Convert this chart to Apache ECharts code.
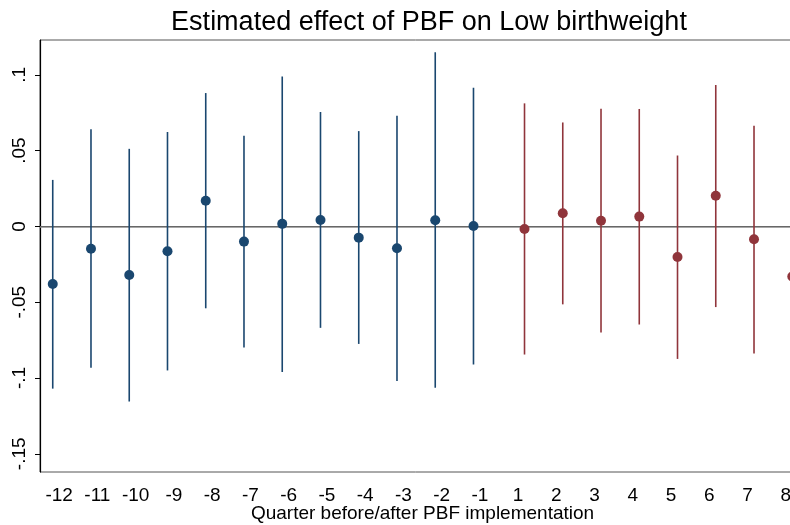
<!DOCTYPE html>
<html>
<head>
<meta charset="utf-8">
<script src="https://cdn.jsdelivr.net/npm/echarts@6/dist/echarts.min.js"></script>
<style>
  html, body { margin: 0; padding: 0; background: #fff; }
  #chart { width: 790px; height: 525px; }
</style>
</head>
<body>
<div id="chart"></div>
<script>
// quarters relative to PBF implementation
const quarters = ['-12', '-11', '-10', '-9', '-8', '-7', '-6', '-5', '-4', '-3', '-2', '-1',
                  '1', '2', '3', '4', '5', '6', '7', '8'];

// before implementation (navy)
const preEst   = [-0.038, -0.0147, -0.032, -0.0164, 0.017, -0.010, 0.0017, 0.0043, -0.0074, -0.0144, 0.0041, 0.0003];
const preLow   = [-0.107, -0.0933, -0.1155, -0.095, -0.054, -0.0799, -0.096, -0.0669, -0.0775, -0.102, -0.1065, -0.091];
const preHigh  = [0.0307, 0.0642, 0.0512, 0.0623, 0.088, 0.0598, 0.099, 0.0755, 0.0629, 0.073, 0.115, 0.0915];

// after implementation (maroon)
const postEst  = [-0.0017, 0.0087, 0.0038, 0.0065, -0.0202, 0.0202, -0.0085, -0.033];
const postLow  = [-0.0845, -0.0514, -0.070, -0.0647, -0.0874, -0.0532, -0.0838, -0.10];
const postHigh = [0.0812, 0.0686, 0.0777, 0.0775, 0.0468, 0.0933, 0.0664, 0.035];

const yTicks = [-0.15, -0.1, -0.05, 0, 0.05, 0.1];

const navy = '#1a476f';
const maroon = '#90353b';
const font = 'Liberation Sans, Arial, sans-serif';

// coefplot style offsets
const preOff = -0.167, postOff = 0.167;

function points(est, start, off) {
    return est.map((v, i) => [start + i + off, v]);
}
function ranges(low, high, start, off) {
    return low.map((v, i) => [start + i + off, v, high[i]]);
}

function ciSeries(data, color) {
    return {
        type: 'custom',
        xAxisIndex: 1,
        data: data,
        silent: true,
        clip: true,
        renderItem: function (params, api) {
            const a = api.coord([api.value(0), api.value(1)]);
            const b = api.coord([api.value(0), api.value(2)]);
            return {
                type: 'line',
                shape: { x1: a[0], y1: a[1], x2: b[0], y2: b[1] },
                style: { stroke: color, lineWidth: 1.6 }
            };
        },
        z: 2
    };
}

const chart = echarts.init(document.getElementById('chart'), null, { renderer: 'canvas' });

const option = {
    backgroundColor: '#fff',
    animation: false,
    title: {
        text: 'Estimated effect of PBF on Low birthweight',
        left: 424,
        textAlign: 'center',
        top: 4,
        textStyle: { fontFamily: font, fontSize: 27, fontWeight: 'normal', color: '#000' }
    },
    grid: {
        left: 40,
        top: 40,
        width: 765,
        bottom: 53,
        containLabel: false,
        outerBoundsMode: 'none',
        show: true,
        borderColor: '#555',
        borderWidth: 1
    },
    xAxis: [{
        type: 'category',
        data: quarters,
        boundaryGap: true,
        name: 'Quarter before/after PBF implementation',
        nameLocation: 'middle',
        nameGap: 32,
        nameMoveOverlap: false,
        nameTextStyle: { fontFamily: font, fontSize: 19, color: '#000' },
        axisLine: { lineStyle: { color: '#000', width: 1.2 } },
        axisTick: { alignWithLabel: true, length: 5, lineStyle: { color: '#000' } },
        axisLabel: { fontFamily: font, fontSize: 19, color: '#000', margin: 14, interval: 0 },
        splitLine: { show: false }
    }, {
        type: 'value',
        min: -0.5,
        max: 19.5,
        show: false
    }],
    yAxis: {
        type: 'value',
        min: -0.162,
        max: 0.123,
        axisLine: { show: true, onZero: false, lineStyle: { color: '#000', width: 1.2 } },
        axisTick: { show: true, length: 5, customValues: yTicks, lineStyle: { color: '#000' } },
        axisLabel: {
            customValues: yTicks,
            rotate: 90,
            margin: 11,
            fontFamily: font,
            fontSize: 19,
            color: '#000',
            formatter: function (v) {
                if (Math.abs(v) < 1e-9) return '0';
                return String(+v.toFixed(2)).replace('0.', '.');
            }
        },
        splitLine: { show: false }
    },
    series: [
        ciSeries(ranges(preLow, preHigh, 0, preOff), navy),
        ciSeries(ranges(postLow, postHigh, 12, postOff), maroon),
        {
            type: 'scatter',
            xAxisIndex: 1,
            data: points(preEst, 0, preOff),
            symbolSize: 10,
            itemStyle: { color: navy, opacity: 1 },
            z: 3,
            markLine: {
                silent: true,
                symbol: 'none',
                label: { show: false },
                lineStyle: { color: '#8a8a8a', type: 'solid', width: 1.5 },
                data: [{ yAxis: 0 }],
                z: 1
            }
        },
        {
            type: 'scatter',
            xAxisIndex: 1,
            data: points(postEst, 12, postOff),
            symbolSize: 10,
            itemStyle: { color: maroon, opacity: 1 },
            z: 3
        }
    ]
};

chart.setOption(option);
</script>
</body>
</html>
